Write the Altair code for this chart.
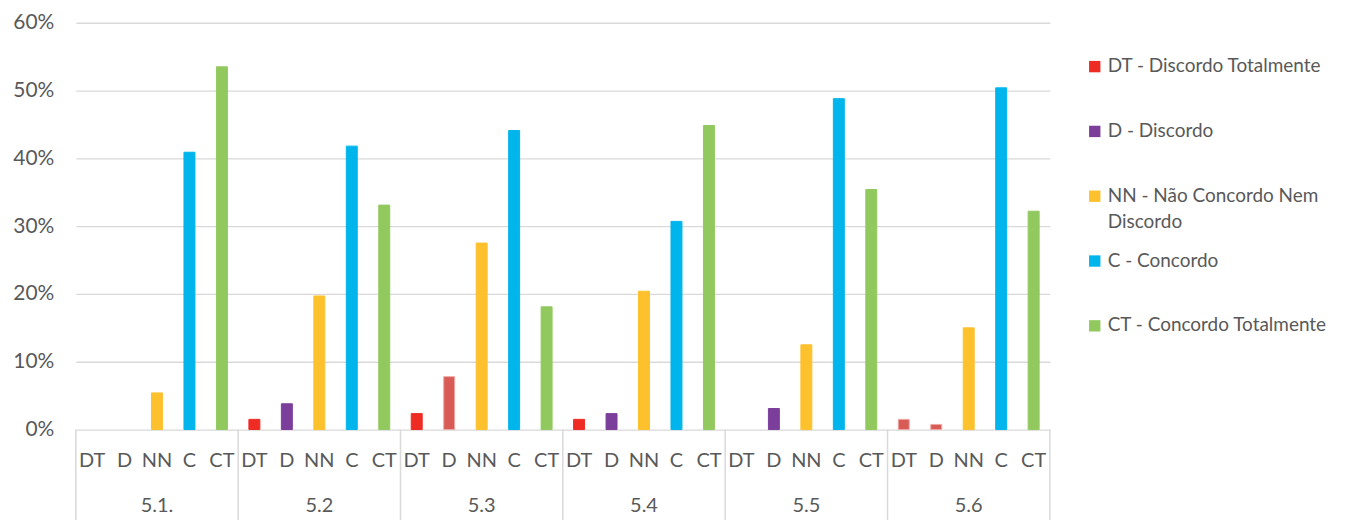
import altair as alt
import pandas as pd

groups = ["5.1.", "5.2", "5.3", "5.4", "5.5", "5.6"]
categories = ["DT", "D", "NN", "C", "CT"]

# values in % per category, one entry per group
dt_vals = [0.0, 1.5, 2.35, 1.5, 0.0, 1.5]
d_vals = [0.0, 3.8, 7.8, 2.35, 3.1, 0.75]
nn_vals = [5.4, 19.7, 27.5, 20.4, 12.5, 15.0]
c_vals = [40.9, 41.8, 44.1, 30.7, 48.8, 50.4]
ct_vals = [53.5, 33.1, 18.1, 44.85, 35.4, 32.2]

cat_colors = ["#EE2C24", "#7B3F9B", "#FDC12E", "#00B5EC", "#92C95F"]
legend_labels = [
    "DT - Discordo Totalmente",
    "D - Discordo",
    "NN - Não Concordo Nem\nDiscordo",
    "C - Concordo",
    "CT - Concordo Totalmente",
]
# points drawn in a different (soft red) colour in the original
special_points = [("5.3", "D"), ("5.6", "DT"), ("5.6", "D")]
special_color = "#D95B55"
special_stroke = "#EDA9A6"

series = [dt_vals, d_vals, nn_vals, c_vals, ct_vals]
rows = []
for gi, g in enumerate(groups):
    for ci, c in enumerate(categories):
        sp = (g, c) in special_points
        rows.append({
            "key": f"{g}|{c}",
            "group": g,
            "cat": c,
            "value": series[ci][gi] / 100.0,
            "fill": special_color if sp else cat_colors[ci],
            "stroke": special_stroke if sp else cat_colors[ci],
        })
df = pd.DataFrame(rows)
keys = list(df["key"])

W, H = 977, 408
FONT = "Lato"
TXT = "#595959"
GRID = "#D9D9D9"

xscale = alt.Scale(domain=keys, paddingInner=0, paddingOuter=0)

bars = alt.Chart(df).transform_filter("datum.value > 0").mark_bar(size=11, strokeWidth=1).encode(
    x=alt.X("key:N", scale=xscale, title=None, sort=keys,
            axis=alt.Axis(labelExpr="split(datum.value, '|')[1]", labelAngle=0,
                          ticks=False, domain=False, labelFont=FONT,
                          labelFontSize=20, labelColor=TXT, labelPadding=31,
                          labelBaseline="middle")),
    y=alt.Y("value:Q", scale=alt.Scale(domain=[0, 0.6]), title=None,
            axis=alt.Axis(format=".0%", values=[0, 0.1, 0.2, 0.3, 0.4, 0.5, 0.6],
                          ticks=False, domain=False, gridColor=GRID, gridWidth=1.3,
                          labelFont=FONT, labelFontSize=21, labelColor=TXT,
                          labelPadding=22)),
    fill=alt.Fill("fill:N", scale=None),
    stroke=alt.Stroke("stroke:N", scale=None),
)

grp_df = df[df["cat"] == "NN"]
group_labels = alt.Chart(grp_df).mark_text(
    font=FONT, fontSize=20, color=TXT, baseline="middle"
).encode(
    x=alt.X("key:N", scale=xscale, sort=keys),
    y=alt.value(H + 77),
    text="group:N",
)

start_df = df[df["cat"] == "DT"]
sep_start = alt.Chart(start_df).mark_rule(color=GRID, strokeWidth=1.5).encode(
    x=alt.X("key:N", scale=xscale, sort=keys, bandPosition=0),
    y=alt.value(H),
    y2=alt.value(H + 100),
)
end_df = df[(df["cat"] == "CT") & (df["group"] == groups[-1])]
sep_end = alt.Chart(end_df).mark_rule(color=GRID, strokeWidth=1.5).encode(
    x=alt.X("key:N", scale=xscale, sort=keys, bandPosition=1),
    y=alt.value(H),
    y2=alt.value(H + 100),
)

main = alt.layer(bars, group_labels, sep_start, sep_end).properties(width=W, height=H)

leg_df = pd.DataFrame({"cat": categories, "label": legend_labels, "color": cat_colors})
leg_y = alt.Y("cat:N", sort=categories, axis=None,
              scale=alt.Scale(type="point", domain=categories, range=[44, 304], padding=0))
leg_sq = alt.Chart(leg_df).mark_square(size=130, opacity=1).encode(
    x=alt.value(5), y=leg_y, color=alt.Color("color:N", scale=None)
)
leg_tx = alt.Chart(leg_df).mark_text(
    font=FONT, fontSize=19, color=TXT, align="left", baseline="top",
    lineBreak="\n", lineHeight=26, dy=-9.5
).encode(x=alt.value(18), y=leg_y, text="label:N")
legend = alt.layer(leg_sq, leg_tx).properties(width=250, height=H)

chart = alt.hconcat(main, legend, spacing=40, bounds="flush").properties(
    padding={"left": 4, "top": 3, "right": 5, "bottom": 5},
    background="white",
).configure_view(strokeWidth=0, stroke="transparent")

chart.save("out.html", embed_options={"renderer": "svg", "actions": False})
